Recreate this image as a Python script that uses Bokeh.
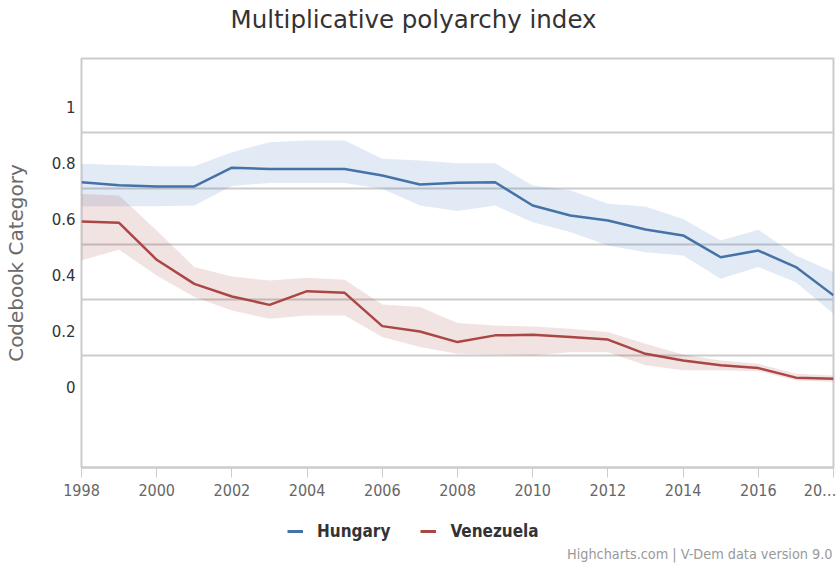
from bokeh.plotting import figure
from bokeh.layouts import column
from bokeh.models import (ColumnDataSource, FixedTicker, Legend, LegendItem, Range1d,
                          Title, LinearAxis, Label)
from bokeh.embed import file_html
from bokeh.resources import INLINE

# ---- data ----
years = list(range(1998, 2019))
hungary = [0.733, 0.722, 0.718, 0.718, 0.785, 0.780, 0.780, 0.780, 0.757, 0.725, 0.731,
           0.733, 0.650, 0.614, 0.596, 0.564, 0.543, 0.465, 0.489, 0.430, 0.329]
hungary_high = [0.799, 0.795, 0.790, 0.790, 0.840, 0.876, 0.882, 0.882, 0.817, 0.811, 0.801,
                0.801, 0.721, 0.704, 0.656, 0.646, 0.602, 0.525, 0.563, 0.471, 0.412]
hungary_low = [0.647, 0.647, 0.647, 0.650, 0.720, 0.730, 0.730, 0.730, 0.710, 0.650, 0.630,
               0.650, 0.590, 0.555, 0.507, 0.483, 0.471, 0.388, 0.430, 0.376, 0.263]
venezuela = [0.593, 0.588, 0.456, 0.370, 0.325, 0.295, 0.344, 0.338, 0.219, 0.200, 0.162,
             0.186, 0.188, 0.180, 0.171, 0.120, 0.096, 0.079, 0.069, 0.035, 0.031]
venezuela_high = [0.691, 0.686, 0.561, 0.430, 0.396, 0.382, 0.392, 0.385, 0.296, 0.287, 0.230,
                  0.221, 0.218, 0.210, 0.198, 0.156, 0.118, 0.096, 0.085, 0.049, 0.043]
venezuela_low = [0.454, 0.492, 0.400, 0.323, 0.275, 0.245, 0.257, 0.257, 0.180, 0.144, 0.120,
                 0.118, 0.114, 0.126, 0.126, 0.079, 0.061, 0.061, 0.058, 0.025, 0.019]

x_ticks = list(range(1998, 2019, 2))
x_tick_labels = {y: str(y) for y in x_ticks}
x_tick_labels[2018] = "20\u2026"
y_ticks = [0, 0.2, 0.4, 0.6, 0.8, 1]
y_tick_labels = {0: "0", 0.2: "0.2", 0.4: "0.4", 0.6: "0.6", 0.8: "0.8", 1: "1"}

series_names = ["Hungary", "Venezuela"]
title_text = "Multiplicative polyarchy index"
y_title = "Codebook Category"
credits_text = "Highcharts.com | V-Dem data version 9.0"

HU_COLOR = "#4572A7"
HU_BAND = "#4a7fc1"
VE_COLOR = "#AA4643"
COND = "DejaVu Sans Condensed"

src = ColumnDataSource(dict(year=years, hu=hungary, hu_hi=hungary_high, hu_lo=hungary_low,
                            ve=venezuela, ve_hi=venezuela_high, ve_lo=venezuela_low))

# ---------------- main chart ----------------
p = figure(width=836, height=505, output_backend="svg", toolbar_location=None,
           x_range=Range1d(1998, 2018), y_range=Range1d(-0.286, 1.175),
           min_border_left=81, min_border_right=3, min_border_top=58, min_border_bottom=38)
p.title.text = ""
p.title.visible = False
p.background_fill_color = "white"
p.border_fill_color = "white"
p.outline_line_color = "#cccccc"
p.outline_line_width = 2

p.varea(x="year", y1="hu_lo", y2="hu_hi", source=src, fill_color=HU_BAND, fill_alpha=0.16)
p.varea(x="year", y1="ve_lo", y2="ve_hi", source=src, fill_color=VE_COLOR, fill_alpha=0.15)
p.line(x="year", y="hu", source=src, line_color=HU_COLOR, line_width=2.5)
p.line(x="year", y="ve", source=src, line_color=VE_COLOR, line_width=2.5)

p.xgrid.visible = False
p.ygrid.ticker = FixedTicker(ticks=[0.114, 0.313, 0.512, 0.711, 0.910])
p.ygrid.grid_line_color = "#cccccc"
p.ygrid.grid_line_width = 2

xa = p.xaxis[0]
xa.ticker = FixedTicker(ticks=x_ticks)
xa.major_label_overrides = x_tick_labels
xa.axis_line_color = "#cccccc"
xa.axis_line_width = 2
xa.major_tick_line_color = "#cccccc"
xa.major_tick_in = 0
xa.major_tick_out = 10
xa.minor_tick_line_color = None
xa.major_label_standoff = 3
xa.major_label_text_font = COND
xa.major_label_text_font_size = "16px"
xa.major_label_text_color = "#666666"

ya = p.yaxis[0]
ya.ticker = FixedTicker(ticks=y_ticks)
ya.major_label_overrides = y_tick_labels
ya.axis_line_color = None
ya.major_tick_line_color = None
ya.major_tick_in = 0
ya.major_tick_out = 0
ya.minor_tick_line_color = None
ya.major_label_text_font = "DejaVu Sans"
ya.major_label_text_font_size = "15px"
ya.major_label_text_color = "#333333"
ya.major_label_standoff = 6
ya.axis_label = y_title
ya.axis_label_text_font = "DejaVu Sans"
ya.axis_label_text_font_size = "20px"
ya.axis_label_text_font_style = "normal"
ya.axis_label_text_color = "#6a6a6a"
ya.axis_label_standoff = 21

# spacer axis (no labels, hair-thin white tick) so the title sits near the top edge
p.add_layout(LinearAxis(ticker=FixedTicker(ticks=[2017]), axis_line_color=None,
                        major_tick_line_color="white", major_tick_line_width=0.01,
                        minor_tick_line_color=None,
                        major_tick_in=0, major_tick_out=22, major_label_standoff=0,
                        major_label_text_color=None), "above")
p.add_layout(Title(text=title_text, align="left", offset=149, standoff=5,
                   text_font="DejaVu Sans", text_font_size="24.5px",
                   text_font_style="normal", text_color="#333333"), "above")

# ---------------- legend + credits strip ----------------
# its frame is aligned with the chart's frame (x from 81 to 833)
q = figure(width=836, height=59, output_backend="svg", toolbar_location=None,
           x_range=Range1d(0, 1), y_range=Range1d(0, 1),
           x_axis_type=None, y_axis_type=None,
           min_border_left=81, min_border_right=3, min_border_top=0, min_border_bottom=0)
q.title.visible = False
q.outline_line_color = None
q.background_fill_color = "white"
q.border_fill_color = "white"
# legend keys: the same series, lying outside this strip's (0..1) view
k_hu = q.line(x="year", y="hu", source=src, line_color=HU_COLOR, line_width=3)
k_ve = q.line(x="year", y="ve", source=src, line_color=VE_COLOR, line_width=3)

legend = Legend(items=[LegendItem(label=series_names[0], renderers=[k_hu]),
                       LegendItem(label=series_names[1], renderers=[k_ve])],
                orientation="horizontal", location=(206, 23),
                label_text_font=COND, label_text_font_style="bold",
                label_text_font_size="17px", label_text_color="#333333",
                glyph_width=16, glyph_height=16, label_standoff=14, spacing=30,
                padding=0, margin=0, border_line_color=None, background_fill_alpha=0)
q.add_layout(legend, "center")
q.add_layout(Label(x=751, y=11, x_units="screen", y_units="screen", text=credits_text,
                   text_align="right", text_baseline="middle", text_font=COND,
                   text_font_size="14.3px", text_color="#999999"))

layout = column(p, q, spacing=0)
open("out.html", "w").write(file_html(layout, INLINE))
